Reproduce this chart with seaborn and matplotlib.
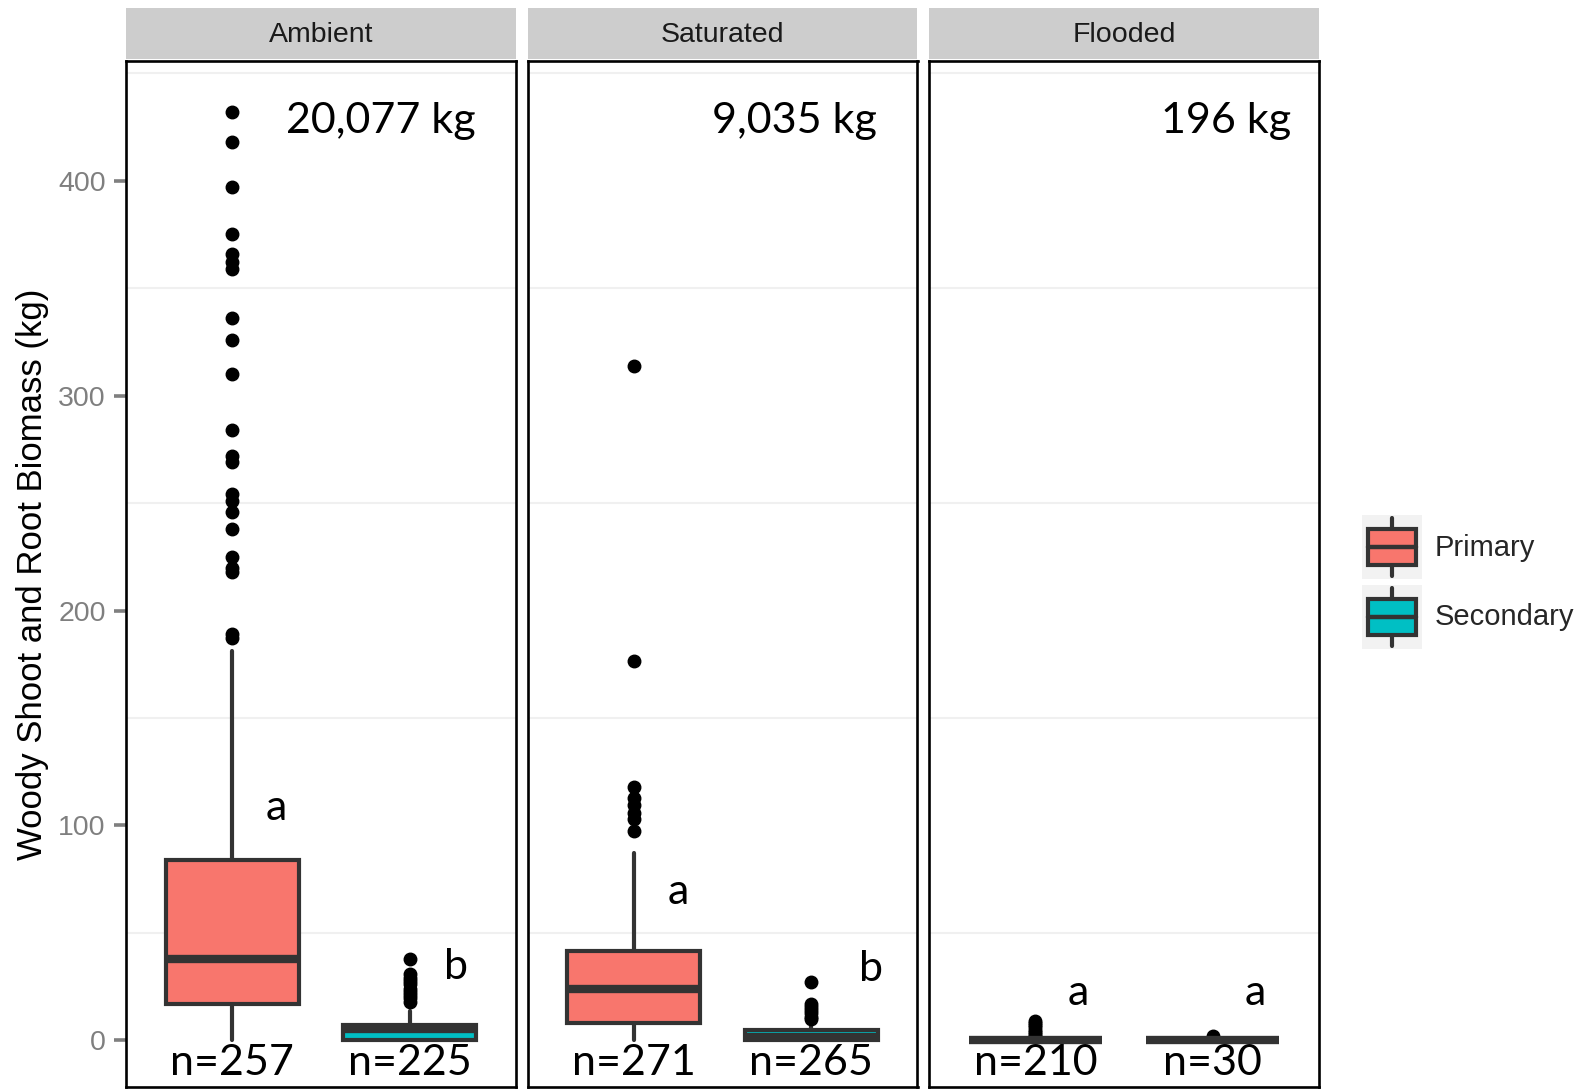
import matplotlib
matplotlib.use("Agg")
import matplotlib.pyplot as plt
import seaborn as sns
from matplotlib.patches import Patch, Rectangle
from matplotlib.lines import Line2D
from matplotlib.legend_handler import HandlerBase

# data
panels = ["Ambient", "Saturated", "Flooded"]
types = ["Primary", "Secondary"]
totals = ["20,077 kg", "9,035 kg", "196 kg"]
letters = [["a", "b"], ["a", "b"], ["a", "a"]]
n_obs = [[257, 225], [271, 265], [210, 30]]

whislo = [[0, 0], [0, 0], [0, 0]]
q1 = [[17, 0.3], [8.3, 0.2], [0, 0]]
med = [[38, 5.2], [24, 1.5], [0.1, 0.05]]
q3 = [[84, 7.2], [41.5, 4.8], [0.4, 0.3]]
whishi = [[181, 13.5], [87, 9], [1, 0.5]]

amb_pri_out = [432, 418, 397, 375, 366, 362, 359, 336, 326, 310, 284, 272, 269,
               254, 251, 246, 238, 225, 220, 218, 189, 187]
amb_sec_out = [38, 31, 29, 27.5, 26, 24, 22.5, 21, 19.5, 18]
sat_pri_out = [314, 176.5, 118, 113, 109.5, 106, 103, 97.5]
sat_sec_out = [27, 17, 15.5, 14, 12.5, 11, 10]
fld_pri_out = [9, 8, 7, 6, 5, 4, 3, 2]
fld_sec_out = [2]
outliers = [[amb_pri_out, amb_sec_out], [sat_pri_out, sat_sec_out],
            [fld_pri_out, fld_sec_out]]

colors = {"Primary": "#F8766D", "Secondary": "#00BFC4"}
dark = "#333333"

# label placement (data coords)
total_x = [2.37, 2.37, 2.44]
total_y = 428
letter_pos = [[(1.25, 108), (2.26, 34)], [(1.25, 69), (2.34, 33)],
              [(1.24, 22), (2.24, 22)]]

sns.set_theme(style="white")
plt.rcParams["font.family"] = ["Liberation Sans", "DejaVu Sans"]
ann_font = ["Lato", "DejaVu Sans"]

W, H = 1587, 1089
fig = plt.figure(figsize=(W / 100, H / 100), dpi=100)

panel_left = [126, 527.5, 929]
pw = 390
ptop, pbot = 61, 1087
lw = 3.0

for i, name in enumerate(panels):
    ax = fig.add_axes([panel_left[i] / W, (H - pbot) / H, pw / W, (pbot - ptop) / H])
    stats = []
    for j, t in enumerate(types):
        stats.append(dict(whislo=whislo[i][j], q1=q1[i][j], med=med[i][j],
                          q3=q3[i][j], whishi=whishi[i][j],
                          fliers=outliers[i][j], label=t))
    bp = ax.bxp(stats, positions=[1, 2], widths=0.75, patch_artist=True,
                showcaps=False,
                boxprops=dict(edgecolor=dark, linewidth=lw),
                medianprops=dict(color=dark, linewidth=6.0, solid_capstyle="butt"),
                whiskerprops=dict(color=dark, linewidth=lw),
                flierprops=dict(marker="o", markerfacecolor="black",
                                markeredgecolor="black", markersize=9))
    for patch, t in zip(bp["boxes"], types):
        patch.set_facecolor(colors[t])

    ax.set_xlim(0.4, 2.6)
    ax.set_ylim(-21.7, 455.7)
    for g in [50, 150, 250, 350, 450]:
        ax.axhline(g, color="#F0F0F0", lw=1.5, zorder=0)
    ax.set_xticks([])
    ax.set_yticks([0, 100, 200, 300, 400])
    if i == 0:
        ax.tick_params(axis="y", left=True, length=8.5, width=2.6, color="#7F7F7F",
                       labelcolor="#7F7F7F", labelsize=20.5, pad=6)
        ax.set_ylabel("Woody Shoot and Root Biomass (kg)", fontsize=25,
                      color="black", labelpad=7)
    else:
        ax.tick_params(axis="y", left=False, labelleft=False)
    for s in ax.spines.values():
        s.set_visible(True)
        s.set_color("black")
        s.set_linewidth(1.9)

    ax.text(total_x[i], total_y, totals[i], ha="right", va="center",
            fontsize=31, family=ann_font, color="black")
    for j in range(2):
        lx, ly = letter_pos[i][j]
        ax.text(lx, ly, letters[i][j], ha="center", va="center",
                fontsize=31, family=ann_font, color="black")
        ax.text(j + 1, -10.6, f"n={n_obs[i][j]}", ha="center", va="center",
                fontsize=31, family=ann_font, color="black", clip_on=False)

    # facet strip
    sax = fig.add_axes([panel_left[i] / W, (H - 59) / H, pw / W, 51 / H])
    sax.set_facecolor("#CDCDCD")
    sax.set_xticks([])
    sax.set_yticks([])
    for s in sax.spines.values():
        s.set_visible(False)
    sax.text(0.5, 0.47, name, ha="center", va="center", fontsize=20.5,
             color="#1A1A1A", transform=sax.transAxes)


class BoxKey(HandlerBase):
    def create_artists(self, legend, orig_handle, xdescent, ydescent, width,
                       height, fontsize, trans):
        x0, y0 = -xdescent, -ydescent
        bg = Rectangle((x0, y0), width, height, facecolor="#F2F2F2",
                       edgecolor="none", transform=trans)
        box = Rectangle((x0 + 0.1 * width, y0 + 0.22 * height), 0.8 * width,
                        0.56 * height, facecolor=orig_handle.get_facecolor(),
                        edgecolor=dark, linewidth=lw, transform=trans)
        cx = x0 + width / 2
        mline = Line2D([x0 + 0.1 * width, x0 + 0.9 * width],
                       [y0 + height / 2] * 2, color=dark, lw=3.2, transform=trans)
        wt = Line2D([cx, cx], [y0 + 0.78 * height, y0 + 0.95 * height],
                    color=dark, lw=lw, transform=trans, solid_capstyle="round")
        wb = Line2D([cx, cx], [y0 + 0.05 * height, y0 + 0.22 * height],
                    color=dark, lw=lw, transform=trans, solid_capstyle="round")
        return [bg, box, mline, wt, wb]


handles = [Patch(facecolor=colors[t], edgecolor=dark) for t in types]
fig.legend(handles, types, handler_map={Patch: BoxKey()}, loc="center left",
           bbox_to_anchor=(1362 / W, 1 - 582 / H), frameon=False, fontsize=21,
           handlelength=2.05, handleheight=3.0, labelspacing=0.2,
           handletextpad=0.45, borderpad=0, borderaxespad=0)

fig.savefig("out.png", dpi=100)
